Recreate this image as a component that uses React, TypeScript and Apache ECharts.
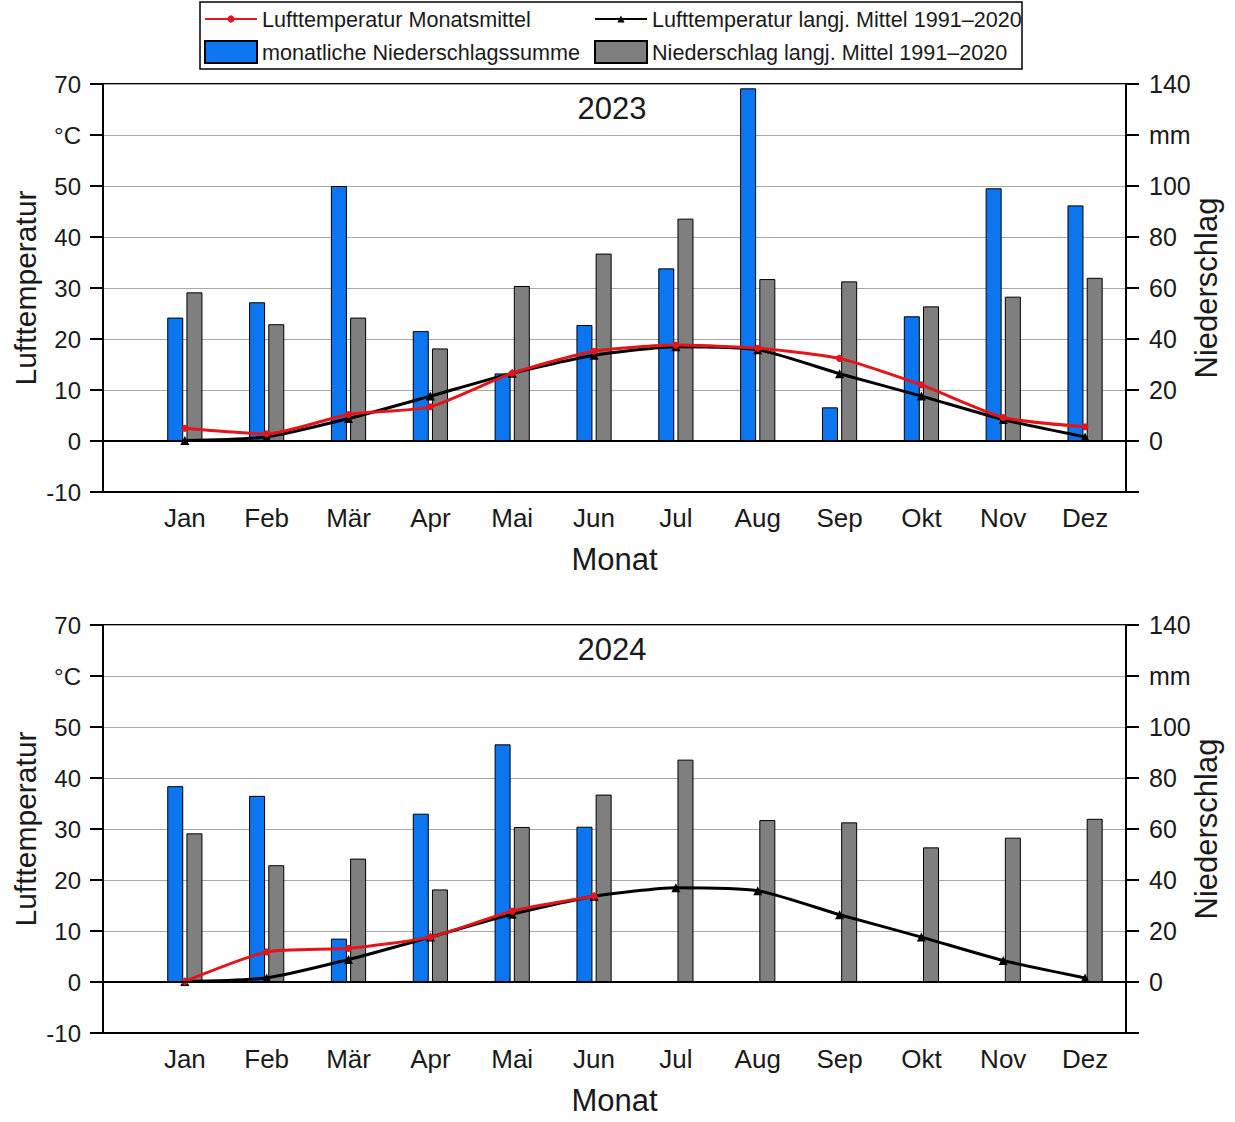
import React, { useEffect, useRef } from "react";
import * as echarts from "echarts";

const months = ["Jan", "Feb", "Mär", "Apr", "Mai", "Jun", "Jul", "Aug", "Sep", "Okt", "Nov", "Dez"];
const years = ["2023", "2024"];

const precip2023 = [48.4, 54.4, 100.0, 43.1, 26.5, 45.5, 67.7, 138.3, 13.2, 48.9, 99.1, 92.4];
const precip2024 = [76.8, 73.0, 17.0, 66.0, 93.2, 60.9];
const precipNorm = [58.3, 45.8, 48.4, 36.3, 60.8, 73.5, 87.2, 63.5, 62.6, 52.8, 56.6, 64.0];

const temp2023 = [2.5, 1.4, 5.2, 6.7, 13.3, 17.6, 18.8, 18.2, 16.2, 11.0, 4.6, 2.8];
const temp2024 = [0.1, 5.9, 6.6, 8.8, 13.9, 16.8];
const tempNorm = [0.1, 0.8, 4.4, 8.8, 13.3, 16.8, 18.5, 17.9, 13.2, 8.8, 4.2, 0.8];

const tempTicks = { min: -10, max: 70, interval: 10, unitAt: 60, unit: "°C" };
const precipTicks = { min: -20, max: 140, interval: 20, unitAt: 120, unit: "mm" };

const NAME_T = "Lufttemperatur Monatsmittel";
const NAME_TN = "Lufttemperatur langj. Mittel 1991–2020";
const NAME_P = "monatliche Niederschlagssumme";
const NAME_PN = "Niederschlag langj. Mittel 1991–2020";

const FONT = "'Liberation Sans', Arial, sans-serif";
const TXT = "#1a1a1a";
const BLUE = "#0b76f0";
const GRAY = "#7f7f7f";
const RED = "#e3151b";

const toXY = (arr: number[]) => arr.map((v, i) => [i + 1, v]);

export default function App() {
  const ref = useRef<HTMLDivElement>(null);

  useEffect(() => {
    document.body.style.margin = "0";
    document.body.style.overflow = "hidden";
    if (!ref.current) return;
    const chart = echarts.init(ref.current, null, { renderer: "svg" });

    const gridTops = [84, 625];
    const gridH = 408;
    const precipSets = [precip2023, precip2024];
    const tempSets = [temp2023, temp2024];

    const grids = gridTops.map((t) => ({
      left: 103,
      right: 109,
      top: t,
      height: gridH,
      show: true,
      borderColor: "#000",
      borderWidth: 2,
      backgroundColor: "transparent",
      containLabel: false,
      outerBoundsMode: "none",
    }));

    const xAxes = gridTops.map((_, gi) => ({
      type: "value",
      gridIndex: gi,
      min: 0,
      max: 12.5,
      interval: 1,
      name: "Monat",
      nameLocation: "middle",
      nameGap: 52,
      nameTextStyle: { fontFamily: FONT, fontSize: 31, color: TXT },
      axisLine: { show: true, onZero: false, lineStyle: { color: "#000", width: 2 } },
      axisTick: { show: false },
      splitLine: { show: false },
      axisLabel: {
        fontFamily: FONT,
        fontSize: 26,
        color: TXT,
        margin: 13,
        showMaxLabel: false,
        formatter: (v: number) => (Number.isInteger(v) && v >= 1 && v <= 12 ? months[v - 1] : ""),
      },
    }));

    const yAxes: any[] = [];
    gridTops.forEach((_, gi) => {
      yAxes.push({
        type: "value",
        gridIndex: gi,
        position: "left",
        min: tempTicks.min,
        max: tempTicks.max,
        interval: tempTicks.interval,
        name: "Lufttemperatur",
        nameLocation: "middle",
        nameGap: 63,
        nameMoveOverlap: false,
        nameRotate: 90,
        nameTextStyle: { fontFamily: FONT, fontSize: 30, color: TXT },
        axisLine: { show: true, onZero: false, lineStyle: { color: "#000", width: 2 } },
        axisTick: { show: true, inside: false, length: 13, lineStyle: { color: "#000", width: 2 } },
        splitLine: { show: true, lineStyle: { color: "#a8a8a8", width: 1 } },
        axisLabel: {
          fontFamily: FONT,
          fontSize: 24,
          color: TXT,
          margin: 22,
          formatter: (v: number) => (v === tempTicks.unitAt ? tempTicks.unit : String(v)),
        },
      });
      yAxes.push({
        type: "value",
        gridIndex: gi,
        position: "right",
        min: precipTicks.min,
        max: precipTicks.max,
        interval: precipTicks.interval,
        name: "Niederschlag",
        nameLocation: "middle",
        nameGap: 65,
        nameMoveOverlap: false,
        nameRotate: 90,
        nameTextStyle: { fontFamily: FONT, fontSize: 31, color: TXT },
        axisLine: { show: true, onZero: false, lineStyle: { color: "#000", width: 2 } },
        axisTick: { show: true, inside: false, length: 13, lineStyle: { color: "#000", width: 2 } },
        splitLine: { show: false },
        axisLabel: {
          fontFamily: FONT,
          fontSize: 25,
          color: TXT,
          margin: 23,
          formatter: (v: number) =>
            v === precipTicks.unitAt ? precipTicks.unit : v < 0 ? "" : String(v),
        },
      });
    });

    const series: any[] = [];
    gridTops.forEach((_, gi) => {
      series.push({
        type: "bar",
        name: NAME_P,
        xAxisIndex: gi,
        yAxisIndex: gi * 2 + 1,
        data: toXY(precipSets[gi]),
        barWidth: 16,
        barGap: "20%",
        itemStyle: { color: BLUE, borderColor: "#000", borderWidth: 1 },
      });
      series.push({
        type: "bar",
        name: NAME_PN,
        xAxisIndex: gi,
        yAxisIndex: gi * 2 + 1,
        data: toXY(precipNorm),
        barWidth: 16,
        barGap: "20%",
        itemStyle: { color: GRAY, borderColor: "#000", borderWidth: 1 },
      });
      series.push({
        type: "line",
        name: NAME_TN,
        xAxisIndex: gi,
        yAxisIndex: gi * 2,
        data: toXY(tempNorm),
        smooth: 0.2,
        symbol: "triangle",
        symbolSize: 9,
        lineStyle: { color: "#000", width: 3 },
        itemStyle: { color: "#000" },
        z: 3,
        markLine: {
          silent: true,
          symbol: "none",
          label: { show: false },
          lineStyle: { color: "#000", width: 2, type: "solid" },
          data: [{ yAxis: 0 }],
        },
      });
      series.push({
        type: "line",
        name: NAME_T,
        xAxisIndex: gi,
        yAxisIndex: gi * 2,
        data: toXY(tempSets[gi]),
        smooth: 0.2,
        symbol: "circle",
        symbolSize: 7,
        lineStyle: { color: RED, width: 3 },
        itemStyle: { color: RED },
        z: 4,
      });
    });

    const legendBase = {
      orient: "horizontal",
      itemWidth: 52,
      textStyle: { fontFamily: FONT, fontSize: 21.6, color: TXT, lineHeight: 22 },
      selectedMode: false,
      padding: 0,
    };

    const option: any = {
      animation: false,
      backgroundColor: "#fff",
      grid: grids,
      xAxis: xAxes,
      yAxis: yAxes,
      series,
      legend: [
        { ...legendBase, left: 204, top: 8, itemHeight: 9, data: [NAME_T] },
        { ...legendBase, left: 594, top: 8, itemHeight: 9, data: [NAME_TN] },
        { ...legendBase, left: 204, top: 40, itemHeight: 22, data: [{ name: NAME_P, icon: "rect" }] },
        { ...legendBase, left: 594, top: 40, itemHeight: 22, data: [{ name: NAME_PN, icon: "rect" }] },
      ],
      graphic: [
        {
          type: "rect",
          shape: { x: 200, y: 2, width: 822, height: 67 },
          style: { fill: "none", stroke: "#000", lineWidth: 1.5 },
          silent: true,
        },
        ...years.map((y, gi) => ({
          type: "text",
          x: 612,
          y: gridTops[gi] + 24,
          style: {
            text: y,
            fontFamily: FONT,
            fontSize: 31,
            fill: TXT,
            textAlign: "center",
            textVerticalAlign: "middle",
          },
        })),
      ],
    };

    chart.setOption(option);
    return () => chart.dispose();
  }, []);

  return <div ref={ref} style={{ width: 1235, height: 1122 }} />;
}
